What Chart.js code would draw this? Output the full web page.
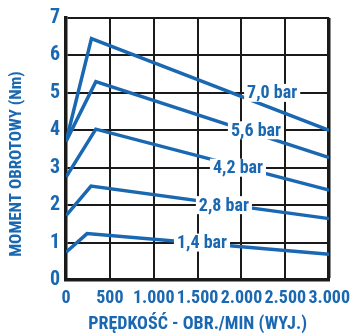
<!DOCTYPE html>
<html>
<head>
<meta charset="utf-8">
<script src="https://cdn.jsdelivr.net/npm/chart.js@4.4.0/dist/chart.umd.min.js"></script>
<style>
  body { margin: 0; background: #fff; }
  #box { width: 358px; height: 335px; }
</style>
</head>
<body>
<div id="box"><canvas id="myChart"></canvas></div>
<script>
let blue = '#1a68b1';
let fontName = "'Roboto Condensed', 'Open Sans Condensed', sans-serif";

// speed (rpm) breakpoints of each curve
let speed70 = [0, 290, 3000];
let speed56 = [0, 340, 3000];
let speed42 = [0, 340, 3000];
let speed28 = [0, 285, 3000];
let speed14 = [0, 240, 3000];

// torque (Nm)
let torque70 = [3.7, 6.45, 4.0];
let torque56 = [3.7, 5.3, 3.27];
let torque42 = [2.75, 4.03, 2.4];
let torque28 = [1.72, 2.51, 1.64];
let torque14 = [0.74, 1.24, 0.69];

let pressureNames = ['7,0 bar', '5,6 bar', '4,2 bar', '2,8 bar', '1,4 bar'];
let labelSpeed = [2350, 2165, 1960, 1800, 1550];
let labelTorque = [5, 4, 3, 2, 1];

let xTicks = [0, 500, 1000, 1500, 2000, 2500, 3000];
let xTickLabels = ['0', '500', '1.000', '1.500', '2.000', '2.500', '3.000'];
let yTicks = [0, 1, 2, 3, 4, 5, 6, 7];
let yTitle = 'MOMENT OBROTOWY (Nm)';

function points(xs, ys) {
    let out = [];
    for (let i = 0; i < xs.length; i++) {
        out.push({ x: xs[i], y: ys[i] });
    }
    return out;
}

let series = [
    points(speed70, torque70),
    points(speed56, torque56),
    points(speed42, torque42),
    points(speed28, torque28),
    points(speed14, torque14)
];

let datasets = [];
for (let i = 0; i < series.length; i++) {
    datasets.push({
        label: pressureNames[i],
        data: series[i],
        borderColor: blue,
        borderWidth: 3.5,
        pointRadius: 0,
        tension: 0,
        fill: false
    });
}

// white boxed labels sitting on the grid lines, plus the rotated y title
let barLabels = {
    id: 'barLabels',
    afterDatasetsDraw(chart) {
        let ctx = chart.ctx;
        let xs = chart.scales.x;
        let ys = chart.scales.y;
        ctx.save();
        ctx.font = 'bold 18px ' + fontName;
        ctx.textAlign = 'center';
        ctx.textBaseline = 'middle';
        for (let i = 0; i < pressureNames.length; i++) {
            let px = xs.getPixelForValue(labelSpeed[i]);
            let py = ys.getPixelForValue(labelTorque[i]);
            let w = ctx.measureText(pressureNames[i]).width + 6;
            ctx.fillStyle = '#fff';
            ctx.fillRect(px - w / 2, py - 9, w, 18);
            ctx.fillStyle = blue;
            ctx.fillText(pressureNames[i], px, py + 1);
        }
        ctx.font = 'bold 17px ' + fontName;
        ctx.translate(17, ys.getPixelForValue(3.1));
        ctx.rotate(-Math.PI / 2);
        ctx.fillText(yTitle, 0, 0);
        ctx.restore();
    }
};

const ctx = document.getElementById('myChart');

new Chart(ctx, {
    type: 'line',
    data: { datasets: datasets },
    plugins: [barLabels],
    options: {
        responsive: true,
        maintainAspectRatio: false,
        animation: false,
        layout: { padding: { top: 17, right: 27, left: 0, bottom: 0 } },
        plugins: {
            legend: { display: false },
            tooltip: { enabled: false }
        },
        scales: {
            x: {
                type: 'linear',
                min: 0,
                max: 3000,
                afterBuildTicks: (scale) => { scale.ticks = xTicks.map(v => ({ value: v })); },
                afterFit: (scale) => { scale.height = 55; },
                grid: {
                    color: '#1a1a1a',
                    lineWidth: (c) => c.index === xTicks.length - 1 ? 3.5 : 2,
                    drawTicks: false
                },
                border: { color: '#1a1a1a', width: 3.5 },
                ticks: {
                    color: blue,
                    padding: 8,
                    maxRotation: 0,
                    autoSkip: false,
                    font: { family: fontName, size: 18, weight: 'bold' },
                    callback: (v) => xTickLabels[xTicks.indexOf(v)]
                },
                title: {
                    display: true,
                    text: 'PRĘDKOŚĆ - OBR./MIN (WYJ.)',
                    color: blue,
                    padding: { top: 4, bottom: 0 },
                    font: { family: fontName, size: 18, weight: 'bold' }
                }
            },
            y: {
                min: 0,
                max: 7,
                afterBuildTicks: (scale) => { scale.ticks = yTicks.map(v => ({ value: v })); },
                afterFit: (scale) => { scale.width = 66; },
                grid: {
                    color: '#1a1a1a',
                    lineWidth: 2,
                    drawTicks: false
                },
                border: { color: '#1a1a1a', width: 3.5 },
                ticks: {
                    color: blue,
                    padding: 6,
                    font: { family: fontName, size: 20, weight: 'bold' }
                }
            }
        }
    }
});
</script>
</body>
</html>
